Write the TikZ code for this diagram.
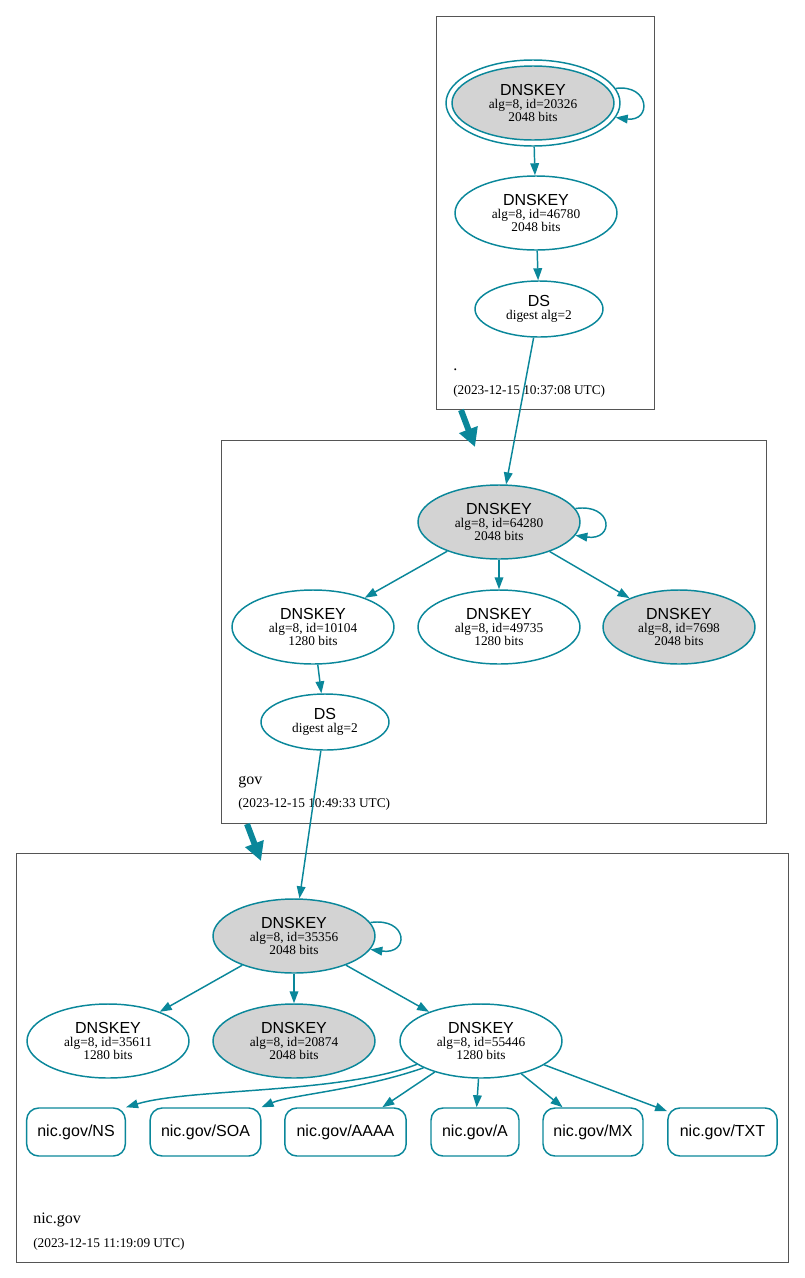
\documentclass[tikz,border=0pt]{standalone}
\usepackage{fontspec}
\setmainfont{Liberation Serif}
\setsansfont{Liberation Sans}
\usetikzlibrary{arrows.meta,shapes.geometric}
\definecolor{edgec}{RGB}{10,135,154}
\definecolor{keyfill}{RGB}{211,211,211}
\definecolor{zonec}{RGB}{85,85,85}
\tikzset{
 key/.style={ellipse, draw=edgec, line width=1.1pt, inner sep=0pt, minimum width=121.5pt, minimum height=55.5pt, align=center, font=\fontsize{10}{9.75}\selectfont},
 ksk/.style={key, fill=keyfill},
 dsnode/.style={key, minimum width=96pt, minimum height=42pt},
 rr/.style={rectangle, rounded corners=9pt, draw=edgec, line width=1.1pt, minimum height=36pt, inner sep=0pt, font=\sffamily\fontsize{12}{12}\selectfont},
 zone/.style={rectangle, draw=zonec, line width=0.75pt, inner sep=0pt},
 edge/.style={draw=edgec, line width=1.1pt, -{Triangle[length=9pt,width=6.5pt]}},
 bigedge/.style={draw=edgec, line width=4.5pt, -{Triangle[length=14pt,width=14pt]}},
 zlabel/.style={anchor=base west, inner sep=0pt, font=\fontsize{12}{12}\selectfont},
 ztime/.style={anchor=base west, inner sep=0pt, font=\fontsize{10}{10}\selectfont},
}
\newcommand{\kt}[2]{{\sffamily\fontsize{12}{12}\selectfont DNSKEY}\\alg=8, id=#1\\#2 bits}
\newcommand{\dt}{{\sffamily\fontsize{12}{12}\selectfont DS}\\digest alg=2}
\begin{document}
\begin{tikzpicture}[x=0.75pt,y=-0.75pt]
\useasboundingbox (0,0) rectangle (804,1278);
% zones
\node[zone, minimum width=163.5pt, minimum height=294.75pt] (z1) at (545,212.5) {};
\node[zone, minimum width=408.75pt, minimum height=287.25pt] (z2) at (493.5,631.5) {};
\node[zone, minimum width=579pt, minimum height=306.75pt] (z3) at (402,1057.5) {};
\node[zlabel] (z1l) at (453,370) {.};
\node[ztime] (z1t) at (453,394) {(2023-12-15 10:37:08 UTC)};
\node[zlabel] (z2l) at (238,784) {gov};
\node[ztime] (z2t) at (238,807) {(2023-12-15 10:49:33 UTC)};
\node[zlabel] (z3l) at (33,1223) {nic.gov};
\node[ztime] (z3t) at (33,1247) {(2023-12-15 11:19:09 UTC)};
% root
\node[ellipse, draw=edgec, line width=1.1pt, minimum width=130.5pt, minimum height=64.5pt, inner sep=0pt] (k1) at (533,103) {};
\node[ksk] (k1in) at (533,103) {\kt{20326}{2048}};
\node[key] (k2) at (536,213) {\kt{46780}{2048}};
\node[dsnode] (ds1) at (539,309) {\dt};
% gov
\node[ksk] (g1) at (499,522) {\kt{64280}{2048}};
\node[key] (g2) at (313,627) {\kt{10104}{1280}};
\node[key] (g3) at (499,627) {\kt{49735}{1280}};
\node[ksk, minimum width=114pt] (g4) at (679,627) {\kt{7698}{2048}};
\node[dsnode] (ds2) at (325,722) {\dt};
% nic.gov
\node[ksk] (n1) at (294,936) {\kt{35356}{2048}};
\node[key] (n2) at (108,1041) {\kt{35611}{1280}};
\node[ksk] (n3) at (294,1041) {\kt{20874}{2048}};
\node[key] (n4) at (481,1041) {\kt{55446}{1280}};
\node[rr, minimum width=74pt] (rns) at (76,1132) {nic.gov/NS};
\node[rr, minimum width=83pt] (rsoa) at (205.5,1132) {nic.gov/SOA};
\node[rr, minimum width=91pt] (raaaa) at (345.5,1132) {nic.gov/AAAA};
\node[rr, minimum width=66pt] (ra) at (475,1132) {nic.gov/A};
\node[rr, minimum width=75pt] (rmx) at (593,1132) {nic.gov/MX};
\node[rr, minimum width=82pt] (rtxt) at (722.5,1132) {nic.gov/TXT};
% edges root
\draw[edge] (k1.10) .. controls (650,84) and (652,122) .. (k1.-10);
\draw[edge] (k1) -- (k2);
\draw[edge] (k2) -- (ds1);
\draw[edge] (ds1) -- (g1);
\coordinate (b1s) at (461,410);
\coordinate (b1e) at (475,447);
\draw[bigedge] (b1s) -- (b1e);
% edges gov
\draw[edge] (g1.10) .. controls (613,503) and (615,541) .. (g1.-10);
\draw[edge] (g1) -- (g2);
\draw[edge] (g1) -- (g3);
\draw[edge] (g1) -- (g4);
\draw[edge] (g2) -- (ds2);
\draw[edge] (ds2) -- (n1);
\coordinate (b2s) at (247,824);
\coordinate (b2e) at (261,861);
\draw[bigedge] (b2s) -- (b2e);
% edges nic.gov
\draw[edge] (n1.10) .. controls (408,917) and (410,955) .. (n1.-10);
\draw[edge] (n1) -- (n2);
\draw[edge] (n1) -- (n3);
\draw[edge] (n1) -- (n4);
\draw[edge] (n4.200) .. controls (340,1094) and (190,1088) .. (rns.north east);
\draw[edge] (n4.205) .. controls (360,1090) and (290,1095) .. (rsoa.north east);
\draw[edge] (n4) -- (raaaa);
\draw[edge] (n4) -- (ra);
\draw[edge] (n4) -- (rmx);
\draw[edge] (n4) -- (rtxt);
\end{tikzpicture}
\end{document}
